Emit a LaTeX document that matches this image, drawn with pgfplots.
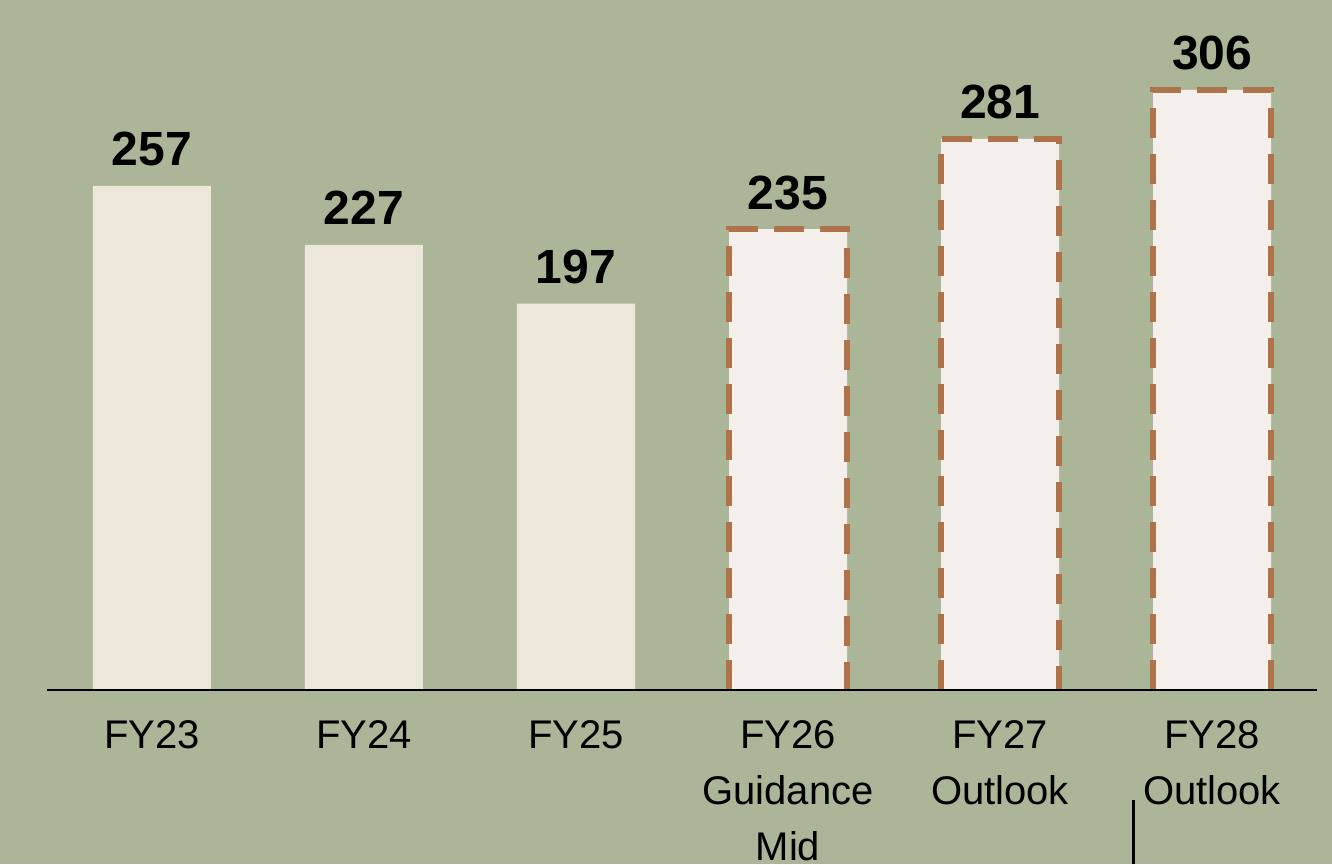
\documentclass[border=0pt]{standalone}
\usepackage{pgfplots}
\pgfplotsset{compat=1.18}
\usepackage{fontspec}
\setmainfont{Liberation Sans}
\definecolor{bg}{HTML}{ABB598}
\definecolor{barsolid}{HTML}{EDE6DA}
\definecolor{barlight}{HTML}{F4EFEA}
\definecolor{brownd}{HTML}{AE734A}
\begin{document}
\begin{tikzpicture}
\fill[bg] (0,0) rectangle (666pt,432pt);
\begin{axis}[
  at={(23.5pt,87pt)}, anchor=south west,
  scale only axis, width=635pt, height=323.6pt,
  xmin=-0.495, xmax=5.495, ymin=0, ymax=330,
  axis y line=none, axis x line*=bottom,
  x axis line style={-, line width=1pt, black},
  xtick={0,1,2,3,4,5}, major tick length=0pt,
  xticklabels={FY23, FY24, FY25, {FY26\\Guidance\\Mid}, {FY27\\Outlook}, {FY28\\Outlook}},
  xticklabel style={align=center, anchor=north, inner sep=0pt, yshift=-15pt,
    font=\fontsize{20}{28}\selectfont},
  clip=false,
  ybar, bar width=0.5566, bar shift=0pt,
  nodes near coords,
  /pgf/number format/assume math mode=true,
  every node near coord/.append style={anchor=base, yshift=10pt, inner sep=0pt,
    font=\bfseries\fontsize{24}{24}\selectfont, text=black},
]
\addplot[fill=barsolid, draw=none] coordinates {(0,257) (1,227) (2,197)};
\addplot[fill=barlight, draw=none] coordinates {(3,235) (4,281) (5,306)};
\end{axis}
\begin{axis}[
  at={(23.5pt,87pt)}, anchor=south west,
  scale only axis, width=635pt, height=323.6pt,
  xmin=-0.495, xmax=5.495, ymin=0, ymax=330,
  axis lines=none, clip=false,
]
\addplot[brownd, line width=2.8pt, dash pattern=on 15pt off 8pt, line cap=butt] coordinates {(2.722,0) (2.722,235) (3.278,235) (3.278,0)};
\addplot[brownd, line width=2.8pt, dash pattern=on 15pt off 8pt, line cap=butt] coordinates {(3.722,0) (3.722,281) (4.278,281) (4.278,0)};
\addplot[brownd, line width=2.8pt, dash pattern=on 15pt off 8pt, line cap=butt] coordinates {(4.722,0) (4.722,306) (5.278,306) (5.278,0)};
\draw[black, line width=1pt] (axis cs:-0.495,0) -- (axis cs:5.495,0);
\end{axis}
\draw[black, line width=1.5pt] (566.5pt,0) -- (566.5pt,32pt);
\pgfresetboundingbox
\useasboundingbox (0,0) rectangle (666pt,432pt);
\end{tikzpicture}
\end{document}
